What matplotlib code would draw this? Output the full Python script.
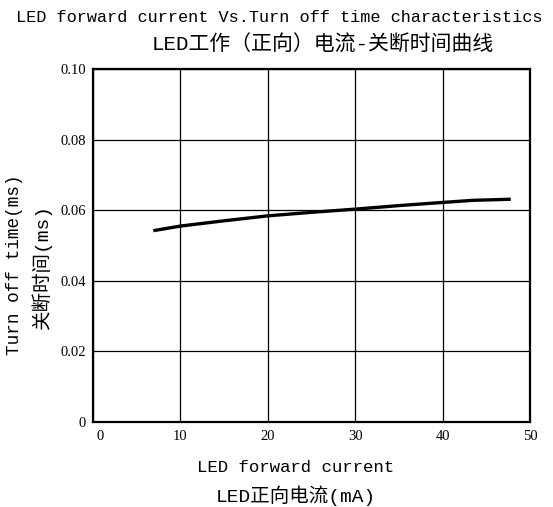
import matplotlib
matplotlib.use("Agg")
import matplotlib.pyplot as plt
from matplotlib.transforms import ScaledTranslation

# Data
current_mA = [6.9, 10, 15, 20, 25, 30, 35, 40, 43.5, 47.8]
turn_off_ms = [0.0542, 0.0555, 0.0570, 0.0584, 0.0594, 0.0603, 0.0613, 0.0622, 0.0628, 0.0631]
x_ticks = [0, 10, 20, 30, 40, 50]
y_ticks = [0, 0.02, 0.04, 0.06, 0.08, 0.10]
y_tick_labels = ["0", "0.02", "0.04", "0.06", "0.08", "0.10"]

title_en = "LED forward current Vs.Turn off time characteristics"
title_cn = "LED工作（正向）电流-关断时间曲线"
xlabel_en = "LED forward current"
xlabel_cn = "LED正向电流(mA)"
ylabel_en = "Turn off time(ms)"
ylabel_cn = "关断时间(ms)"

FAM = ["Liberation Mono", "Noto Sans CJK SC", "DejaVu Sans"]
TICKFAM = ["Liberation Serif", "DejaVu Serif"]

fig = plt.figure(figsize=(5.53, 5.07), dpi=100)
W, H = 553, 507
ax = fig.add_axes([93 / W, 1 - 422 / H, (530 - 93) / W, (422 - 69) / H])

ax.plot(current_mA, turn_off_ms, color="black", lw=2.4, solid_capstyle="butt")

ax.set_xlim(0, 50)
ax.set_ylim(0, 0.10)
ax.set_xticks(x_ticks)
ax.set_xticklabels([str(v) for v in x_ticks], family=TICKFAM, fontsize=10.5)
ax.set_yticks(y_ticks)
ax.set_yticklabels(y_tick_labels, family=TICKFAM, fontsize=10.5)
ax.tick_params(axis="both", length=0)
ax.tick_params(axis="x", pad=6)
ax.tick_params(axis="y", pad=5)
ax.grid(True, color="black", lw=0.9)
for s in ax.spines.values():
    s.set_linewidth(1.6)
    s.set_color("black")

# shift the x "0" tick label slightly right like the reference
t0 = ax.xaxis.get_major_ticks()[0].label1
t0.set_transform(t0.get_transform() + ScaledTranslation(7 / 100, 0, fig.dpi_scale_trans))

# Titles
fig.text(279 / W, 1 - 17 / H, title_en, family=FAM, fontsize=12.2, ha="center", va="center")
fig.text(323 / W, 1 - 45 / H, title_cn, family=FAM, fontsize=15, ha="center", va="center")

# X labels
fig.text(296 / W, 1 - 468 / H, xlabel_en, family=FAM, fontsize=12.5, ha="center", va="center")
fig.text(296 / W, 1 - 496 / H, xlabel_cn, family=FAM, fontsize=14, ha="center", va="center")

# Y labels
fig.text(15 / W, 1 - 265 / H, ylabel_en, family=FAM, fontsize=12.7, ha="center", va="center", rotation=90)
fig.text(42 / W, 1 - 267 / H, ylabel_cn, family=FAM, fontsize=14, ha="center", va="center", rotation=90)

fig.savefig("out.png", dpi=100)
